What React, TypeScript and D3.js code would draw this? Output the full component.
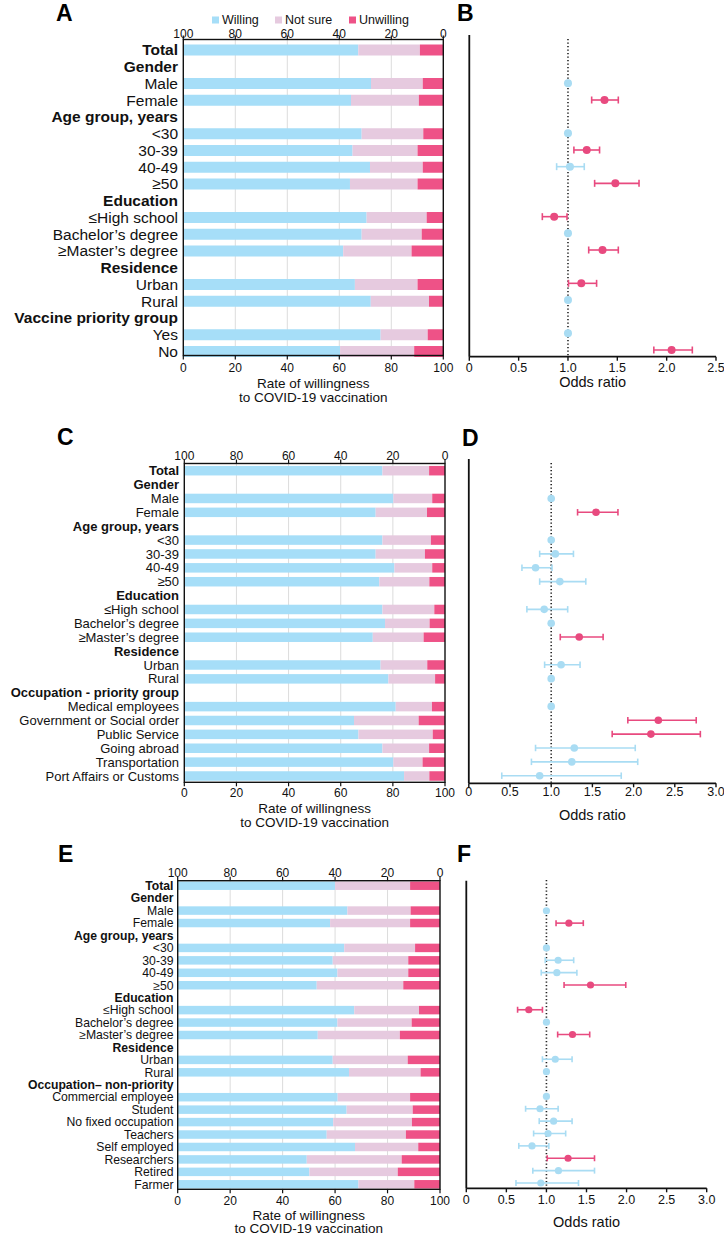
import React from 'react';
import * as d3 from 'd3';

type Num = number | null;

const FONT = '"Liberation Sans", Arial, Helvetica, sans-serif';
const C_WILL = '#a6def8';
const C_NS = '#e6cadf';
const C_UNW = '#ee5287';
const C_BLUE = '#a9dcf3';
const C_PINK = '#e84a7f';
const C_GRID = '#dcdcdc';

const legendKeys = ['Willing', 'Not sure', 'Unwilling'];
const pctTicks = [0, 20, 40, 60, 80, 100];
const orTicksB = [0, 0.5, 1.0, 1.5, 2.0, 2.5];
const orTicksDF = [0, 0.5, 1.0, 1.5, 2.0, 2.5, 3.0];

// ---------- Panel A / B ----------
const labelsA = ['Total', 'Gender', 'Male', 'Female', 'Age group, years', '<30', '30-39', '40-49', '≥50',
  'Education', '≤High school', 'Bachelor’s degree', '≥Master’s degree', 'Residence', 'Urban', 'Rural',
  'Vaccine priority group', 'Yes', 'No'];
const boldA = ['Total', 'Gender', 'Age group, years', 'Education', 'Residence', 'Vaccine priority group'];
const willingA: Num[] = [67.3, null, 72.2, 64.5, null, 68.6, 65.1, 71.8, 64.1, null, 70.5, 68.6, 61.5, null, 66.0, 72.1, null, 75.9, 60.3];
const notSureA: Num[] = [23.7, null, 19.9, 26.1, null, 23.7, 25.0, 20.3, 26.0, null, 23.1, 23.1, 26.3, null, 24.1, 22.4, null, 18.1, 28.5];
const unwillingA: Num[] = [9.0, null, 7.9, 9.4, null, 7.7, 9.9, 7.9, 9.9, null, 6.4, 8.3, 12.2, null, 9.9, 5.5, null, 6.0, 11.2];
const orB: Num[] = [null, null, 1, 1.37, null, 1, 1.19, 1.02, 1.48, null, 0.86, 1, 1.35, null, 1.135, 1, null, 1, 2.05];
const loB: Num[] = [null, null, null, 1.24, null, null, 1.06, 0.885, 1.27, null, 0.74, null, 1.21, null, 1.005, null, null, null, 1.87];
const hiB: Num[] = [null, null, null, 1.51, null, null, 1.32, 1.165, 1.72, null, 0.99, null, 1.51, null, 1.29, null, null, null, 2.26];
const sigB: boolean[] = [false, false, false, true, false, false, true, false, true, false, true, false, true, false, true, false, false, false, true];

// ---------- Panel C / D ----------
const labelsC = ['Total', 'Gender', 'Male', 'Female', 'Age group, years', '<30', '30-39', '40-49', '≥50',
  'Education', '≤High school', 'Bachelor’s degree', '≥Master’s degree', 'Residence', 'Urban', 'Rural',
  'Occupation - priority group', 'Medical employees', 'Government or Social order', 'Public Service',
  'Going abroad', 'Transportation', 'Port Affairs or Customs'];
const boldC = ['Total', 'Gender', 'Age group, years', 'Education', 'Residence', 'Occupation - priority group'];
const willingC: Num[] = [76.0, null, 80.2, 73.4, null, 76.0, 73.4, 80.6, 74.8, null, 76.0, 77.0, 72.3, null, 75.3, 78.3, null, 81.1, 65.1, 66.8, 76.0, 80.2, 84.3];
const notSureC: Num[] = [17.9, null, 14.9, 19.7, null, 18.6, 18.9, 14.5, 19.2, null, 19.9, 17.1, 19.5, null, 17.9, 17.9, null, 13.9, 24.8, 28.5, 17.9, 11.2, 9.7];
const unwillingC: Num[] = [6.1, null, 4.9, 6.9, null, 5.4, 7.7, 4.9, 6.0, null, 4.1, 5.9, 8.2, null, 6.8, 3.8, null, 5.0, 10.1, 4.7, 6.1, 8.6, 6.0];
const orD: Num[] = [null, null, 1, 1.544, null, 1, 1.05, 0.81, 1.105, null, 0.915, 1, 1.34, null, 1.12, 1, null, 1, 2.30, 2.21, 1.28, 1.25, 0.86];
const loD: Num[] = [null, null, null, 1.32, null, null, 0.86, 0.645, 0.86, null, 0.705, null, 1.11, null, 0.92, null, null, null, 1.93, 1.74, 0.81, 0.76, 0.40];
const hiD: Num[] = [null, null, null, 1.81, null, null, 1.27, 1.01, 1.42, null, 1.2, null, 1.63, null, 1.35, null, null, null, 2.76, 2.81, 2.02, 2.05, 1.85];
const sigD: boolean[] = [false, false, false, true, false, false, false, false, false, false, false, false, true, false, false, false, false, false, true, true, false, false, false];

// ---------- Panel E / F ----------
const labelsE = ['Total', 'Gender', 'Male', 'Female', 'Age group, years', '<30', '30-39', '40-49', '≥50',
  'Education', '≤High school', 'Bachelor’s degree', '≥Master’s degree', 'Residence', 'Urban', 'Rural',
  'Occupation– non-priority', 'Commercial employee', 'Student', 'No fixed occupation', 'Teachers',
  'Self employed', 'Researchers', 'Retired', 'Farmer'];
const boldE = ['Total', 'Gender', 'Age group, years', 'Education', 'Residence', 'Occupation– non-priority'];
const willingE: Num[] = [60.0, null, 64.7, 58.1, null, 63.5, 59.1, 60.9, 53.0, null, 67.3, 60.9, 53.4, null, 59.1, 65.3, null, 61.0, 64.4, 59.3, 56.8, 67.6, 49.2, 50.2, 68.9];
const notSureE: Num[] = [28.6, null, 24.1, 30.5, null, 27.0, 28.8, 27.0, 33.0, null, 24.7, 28.3, 31.3, null, 28.6, 27.3, null, 27.6, 25.2, 30.0, 30.2, 24.1, 36.2, 33.7, 21.3];
const unwillingE: Num[] = [11.4, null, 11.2, 11.4, null, 9.5, 12.1, 12.1, 14.0, null, 8.0, 10.8, 15.3, null, 12.3, 7.4, null, 11.4, 10.4, 10.7, 13.0, 8.3, 14.6, 16.1, 9.8];
const orF: Num[] = [null, null, 1, 1.28, null, 1, 1.146, 1.13, 1.55, null, 0.78, 1, 1.325, null, 1.11, 1, null, 1, 0.92, 1.09, 1.02, 0.82, 1.27, 1.15, 0.93];
const loF: Num[] = [null, null, null, 1.12, null, null, 0.985, 0.935, 1.22, null, 0.64, null, 1.14, null, 0.95, null, null, null, 0.74, 0.91, 0.84, 0.655, 1.01, 0.83, 0.62];
const hiF: Num[] = [null, null, null, 1.46, null, null, 1.34, 1.38, 1.99, null, 0.95, null, 1.54, null, 1.32, null, null, null, 1.146, 1.32, 1.24, 1.03, 1.60, 1.60, 1.40];
const sigF: boolean[] = [false, false, false, true, false, false, false, false, true, false, true, false, true, false, false, false, false, false, false, false, false, false, true, false, false];

interface BarProps {
  labels: string[]; bold: string[]; willing: Num[]; notSure: Num[]; unwilling: Num[];
  x0: number; x1: number; yFirst: number; yLast: number; axisTop: number; axisBottom: number;
  barH: number; labelX: number; labelSize: number; tickSize: number;
  topTickY: number; botTickY: number; titleY1: number; titleY2: number; legendY?: number;
}

function BarPanel(p: BarProps) {
  const x = d3.scaleLinear().domain([0, 100]).range([p.x0, p.x1]);
  const xTop = d3.scaleLinear().domain([100, 0]).range([p.x0, p.x1]);
  const y = d3.scalePoint<string>().domain(p.labels.map((_, i) => String(i))).range([p.yFirst, p.yLast]);
  const cx = (p.x0 + p.x1) / 2;
  return (
    <g fontFamily={FONT}>
      {pctTicks.filter(t => t > 0 && t < 100).map(t => (
        <line key={'g' + t} x1={x(t)} x2={x(t)} y1={p.axisTop} y2={p.axisBottom} stroke={C_GRID} strokeWidth={1} />
      ))}
      {p.labels.map((lab, i) => {
        const w = p.willing[i], n = p.notSure[i], u = p.unwilling[i];
        const cy = y(String(i))!;
        const isBold = p.bold.includes(lab);
        return (
          <g key={i}>
            <text x={p.labelX} y={cy} dy="0.35em" textAnchor="end" fontSize={p.labelSize}
              fontWeight={isBold ? 'bold' : 'normal'} fill="#111">{lab}</text>
            {w !== null && n !== null && u !== null && (
              <g>
                <rect x={x(0)} y={cy - p.barH / 2} width={x(w) - x(0)} height={p.barH} fill={C_WILL} />
                <rect x={x(w)} y={cy - p.barH / 2} width={x(w + n) - x(w)} height={p.barH} fill={C_NS} />
                <rect x={xTop(u)} y={cy - p.barH / 2} width={x(100) - xTop(u)} height={p.barH} fill={C_UNW} />
              </g>
            )}
          </g>
        );
      })}
      <rect x={p.x0} y={p.axisTop} width={p.x1 - p.x0} height={p.axisBottom - p.axisTop} fill="none" stroke="#111" strokeWidth={1.4} />
      {pctTicks.map(t => (
        <g key={'t' + t}>
          <line x1={xTop(t)} x2={xTop(t)} y1={p.axisTop} y2={p.axisTop - 4} stroke="#111" strokeWidth={1.2} />
          <text x={xTop(t)} y={p.topTickY} textAnchor="middle" fontSize={p.tickSize} fill="#111">{t}</text>
          <line x1={x(t)} x2={x(t)} y1={p.axisBottom} y2={p.axisBottom + 4} stroke="#111" strokeWidth={1.2} />
          <text x={x(t)} y={p.botTickY} textAnchor="middle" fontSize={p.tickSize} fill="#111">{t}</text>
        </g>
      ))}
      <text x={cx} y={p.titleY1} textAnchor="middle" fontSize={13.5} fill="#111">Rate of willingness</text>
      <text x={cx} y={p.titleY2} textAnchor="middle" fontSize={13.5} fill="#111">to COVID-19 vaccination</text>
      {p.legendY !== undefined && (
        <g>
          {legendKeys.map((k, i) => {
            const lx = [212, 275, 349][i];
            const col = [C_WILL, C_NS, C_UNW][i];
            return (
              <g key={k}>
                <rect x={lx} y={p.legendY! - 3.5} width={7} height={7} fill={col} />
                <text x={lx + 10} y={p.legendY} dy="0.35em" fontSize={12.5} fill="#111">{k}</text>
              </g>
            );
          })}
        </g>
      )}
    </g>
  );
}

interface OddsProps {
  n: number; or: Num[]; lo: Num[]; hi: Num[]; sig: boolean[]; ticks: number[];
  x0: number; x1: number; max: number; yFirst: number; yLast: number;
  axisTop: number; dotTop: number; axisBottom: number; r: number; cap: number;
  tickY: number; titleY: number;
}

function OddsPanel(p: OddsProps) {
  const x = d3.scaleLinear().domain([0, p.max]).range([p.x0, p.x1]);
  const y = d3.scalePoint<string>().domain(d3.range(p.n).map(String)).range([p.yFirst, p.yLast]);
  const fmt = (t: number) => (t === 0 ? '0' : d3.format('.1f')(t));
  return (
    <g fontFamily={FONT}>
      <line x1={x(1)} x2={x(1)} y1={p.dotTop} y2={p.axisBottom} stroke="#222" strokeWidth={1.6} strokeDasharray="1.3,2.2" />
      {p.or.map((v, i) => {
        if (v === null) return null;
        const cy = y(String(i))!;
        const col = p.sig[i] ? C_PINK : C_BLUE;
        const lo = p.lo[i], hi = p.hi[i];
        return (
          <g key={i}>
            {lo !== null && hi !== null && (
              <g stroke={col} strokeWidth={1.6}>
                <line x1={x(lo)} x2={x(hi)} y1={cy} y2={cy} />
                <line x1={x(lo)} x2={x(lo)} y1={cy - p.cap / 2} y2={cy + p.cap / 2} />
                <line x1={x(hi)} x2={x(hi)} y1={cy - p.cap / 2} y2={cy + p.cap / 2} />
              </g>
            )}
            <circle cx={x(v)} cy={cy} r={p.r} fill={col} />
          </g>
        );
      })}
      <line x1={p.x0} x2={p.x0} y1={p.axisTop} y2={p.axisBottom} stroke="#111" strokeWidth={1.8} />
      <line x1={p.x0} x2={p.x1} y1={p.axisBottom} y2={p.axisBottom} stroke="#111" strokeWidth={1.8} />
      {p.ticks.map(t => (
        <g key={t}>
          <line x1={x(t)} x2={x(t)} y1={p.axisBottom} y2={p.axisBottom + 4} stroke="#111" strokeWidth={1.4} />
          <text x={x(t)} y={p.tickY} textAnchor="middle" fontSize={12.5} fill="#111">{fmt(t)}</text>
        </g>
      ))}
      <text x={(p.x0 + p.x1) / 2} y={p.titleY} textAnchor="middle" fontSize={14.5} fill="#111">Odds ratio</text>
    </g>
  );
}

function Letter({ x, y, t }: { x: number; y: number; t: string }) {
  return <text x={x} y={y} fontFamily={FONT} fontWeight="bold" fontSize={23} fill="#000">{t}</text>;
}

export default function App() {
  return (
    <svg width={724} height={1236} style={{ position: 'absolute', left: 0, top: 0, background: '#fff' }}>
      <rect x={0} y={0} width={724} height={1236} fill="#fff" />
      <Letter x={56} y={21} t="A" />
      <Letter x={457} y={21} t="B" />
      <Letter x={57} y={445} t="C" />
      <Letter x={462} y={446} t="D" />
      <Letter x={58} y={862} t="E" />
      <Letter x={457} y={862} t="F" />

      <BarPanel labels={labelsA} bold={boldA} willing={willingA} notSure={notSureA} unwilling={unwillingA}
        x0={183.3} x1={443.3} yFirst={50} yLast={351.5} axisTop={39.5} axisBottom={355.5} barH={11}
        labelX={178} labelSize={15.5} tickSize={12} topTickY={37.5} botTickY={372}
        titleY1={388} titleY2={402} legendY={20} />
      <OddsPanel n={labelsA.length} or={orB} lo={loB} hi={hiB} sig={sigB} ticks={orTicksB}
        x0={469.3} x1={716} max={2.5} yFirst={50} yLast={350} axisTop={35} dotTop={39} axisBottom={356.7}
        r={4} cap={7} tickY={371.5} titleY={387} />

      <BarPanel labels={labelsC} bold={boldC} willing={willingC} notSure={notSureC} unwilling={unwillingC}
        x0={184.3} x1={445} yFirst={470.7} yLast={776} axisTop={463.5} axisBottom={782.3} barH={9.5}
        labelX={179} labelSize={13} tickSize={12} topTickY={460} botTickY={797}
        titleY1={813} titleY2={827} />
      <OddsPanel n={labelsC.length} or={orD} lo={loD} hi={hiD} sig={sigD} ticks={orTicksDF}
        x0={468.8} x1={716} max={3} yFirst={470.7} yLast={775.7} axisTop={459} dotTop={463} axisBottom={783.3}
        r={3.8} cap={6.5} tickY={796} titleY={820} />

      <BarPanel labels={labelsE} bold={boldE} willing={willingE} notSure={notSureE} unwilling={unwillingE}
        x0={177.7} x1={440} yFirst={885.7} yLast={1184.3} axisTop={880.7} axisBottom={1189.3} barH={8.5}
        labelX={173.5} labelSize={12.2} tickSize={12} topTickY={877} botTickY={1204.5}
        titleY1={1219.5} titleY2={1232.5} />
      <OddsPanel n={labelsE.length} or={orF} lo={loF} hi={hiF} sig={sigF} ticks={orTicksDF}
        x0={466.3} x1={706.7} max={3} yFirst={886} yLast={1183} axisTop={880.7} dotTop={880} axisBottom={1188.3}
        r={3.6} cap={6} tickY={1204} titleY={1227} />
    </svg>
  );
}
